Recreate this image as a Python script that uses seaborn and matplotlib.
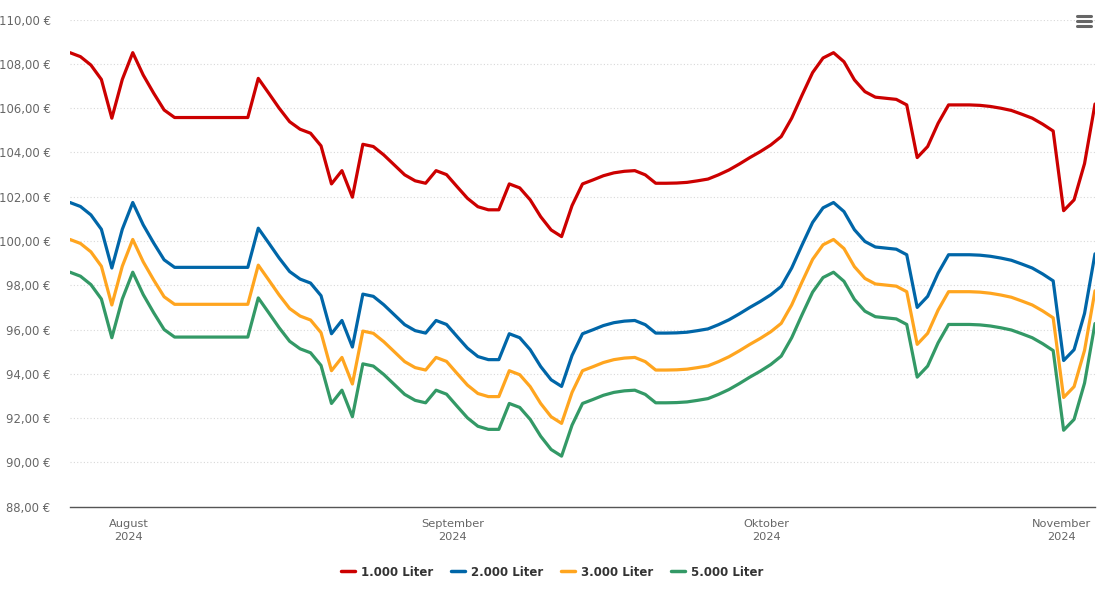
import pandas as pd
import matplotlib
matplotlib.use("Agg")
import matplotlib.pyplot as plt
from matplotlib.lines import Line2D
from matplotlib.ticker import FuncFormatter
import seaborn as sns

# daily price per 100 liter, 26.07.2024 - 01.11.2024
dates = pd.date_range("2024-07-26 10:00", "2024-11-01 10:00", freq="D")

liter_1000 = [
    108.51, 108.33, 107.95, 107.30, 105.55, 107.30, 108.51, 107.50, 106.68, 105.92,
    105.58, 105.58, 105.58, 105.58, 105.58, 105.58, 105.58, 105.58, 107.35, 106.68,
    106.00, 105.39, 105.05, 104.87, 104.30, 102.58, 103.18, 101.98, 104.37, 104.27,
    103.89, 103.44, 102.99, 102.72, 102.61, 103.18, 103.00, 102.46, 101.93, 101.55,
    101.41, 101.41, 102.58, 102.40, 101.86, 101.10, 100.50, 100.20, 101.60, 102.58,
    102.76, 102.95, 103.08, 103.15, 103.18, 102.99, 102.61, 102.61, 102.62, 102.65,
    102.72, 102.80, 102.99, 103.21, 103.48, 103.77, 104.04, 104.34, 104.72, 105.55,
    106.60, 107.61, 108.27, 108.51, 108.10, 107.28, 106.75, 106.50, 106.45, 106.40,
    106.15, 103.77, 104.27, 105.32, 106.15, 106.15, 106.15, 106.13, 106.08, 106.00,
    105.90, 105.73, 105.55, 105.28, 104.97, 101.37, 101.86, 103.50, 106.19,
]
liter_2000 = [
    101.74, 101.56, 101.18, 100.53, 98.78, 100.53, 101.74, 100.73, 99.91, 99.15,
    98.81, 98.81, 98.81, 98.81, 98.81, 98.81, 98.81, 98.81, 100.58, 99.91,
    99.23, 98.62, 98.28, 98.10, 97.53, 95.81, 96.41, 95.21, 97.60, 97.50,
    97.12, 96.67, 96.22, 95.95, 95.84, 96.41, 96.23, 95.69, 95.16, 94.78,
    94.64, 94.64, 95.81, 95.63, 95.09, 94.33, 93.73, 93.43, 94.83, 95.81,
    95.99, 96.18, 96.31, 96.38, 96.41, 96.22, 95.84, 95.84, 95.85, 95.88,
    95.95, 96.03, 96.22, 96.44, 96.71, 97.00, 97.27, 97.57, 97.95, 98.78,
    99.83, 100.84, 101.50, 101.74, 101.33, 100.51, 99.98, 99.73, 99.68, 99.63,
    99.38, 97.00, 97.50, 98.55, 99.38, 99.38, 99.38, 99.36, 99.31, 99.23,
    99.13, 98.96, 98.78, 98.51, 98.20, 94.60, 95.09, 96.73, 99.42,
]
liter_3000 = [
    100.07, 99.89, 99.51, 98.86, 97.11, 98.86, 100.07, 99.06, 98.24, 97.48,
    97.14, 97.14, 97.14, 97.14, 97.14, 97.14, 97.14, 97.14, 98.91, 98.24,
    97.56, 96.95, 96.61, 96.43, 95.86, 94.14, 94.74, 93.54, 95.93, 95.83,
    95.45, 95.00, 94.55, 94.28, 94.17, 94.74, 94.56, 94.02, 93.49, 93.11,
    92.97, 92.97, 94.14, 93.96, 93.42, 92.66, 92.06, 91.76, 93.16, 94.14,
    94.32, 94.51, 94.64, 94.71, 94.74, 94.55, 94.17, 94.17, 94.18, 94.21,
    94.28, 94.36, 94.55, 94.77, 95.04, 95.33, 95.60, 95.90, 96.28, 97.11,
    98.16, 99.17, 99.83, 100.07, 99.66, 98.84, 98.31, 98.06, 98.01, 97.96,
    97.71, 95.33, 95.83, 96.88, 97.71, 97.71, 97.71, 97.69, 97.64, 97.56,
    97.46, 97.29, 97.11, 96.84, 96.53, 92.93, 93.42, 95.06, 97.75,
]
liter_5000 = [
    98.59, 98.41, 98.03, 97.38, 95.63, 97.38, 98.59, 97.58, 96.76, 96.00,
    95.66, 95.66, 95.66, 95.66, 95.66, 95.66, 95.66, 95.66, 97.43, 96.76,
    96.08, 95.47, 95.13, 94.95, 94.38, 92.66, 93.26, 92.06, 94.45, 94.35,
    93.97, 93.52, 93.07, 92.80, 92.69, 93.26, 93.08, 92.54, 92.01, 91.63,
    91.49, 91.49, 92.66, 92.48, 91.94, 91.18, 90.58, 90.28, 91.68, 92.66,
    92.84, 93.03, 93.16, 93.23, 93.26, 93.07, 92.69, 92.69, 92.70, 92.73,
    92.80, 92.88, 93.07, 93.29, 93.56, 93.85, 94.12, 94.42, 94.80, 95.63,
    96.68, 97.69, 98.35, 98.59, 98.18, 97.36, 96.83, 96.58, 96.53, 96.48,
    96.23, 93.85, 94.35, 95.40, 96.23, 96.23, 96.23, 96.21, 96.16, 96.08,
    95.98, 95.81, 95.63, 95.36, 95.05, 91.45, 91.94, 93.58, 96.27,
]

series_names = ["1.000 Liter", "2.000 Liter", "3.000 Liter", "5.000 Liter"]
colors = ["#cc0000", "#0066a8", "#ffa51f", "#339966"]
month_labels = ["August\n2024", "September\n2024", "Oktober\n2024", "November\n2024"]
month_ticks = pd.to_datetime(["2024-08-01", "2024-09-01", "2024-10-01", "2024-11-01"])

frames = []
for name, vals in zip(series_names, [liter_1000, liter_2000, liter_3000, liter_5000]):
    frames.append(pd.DataFrame({"Datum": dates, "Preis": vals, "Menge": name}))
df = pd.concat(frames, ignore_index=True)

sns.set_style("white")
plt.rcParams["font.family"] = ["DejaVu Sans"]

fig = plt.figure(figsize=(11.05, 6.03), dpi=100)
ax = fig.add_axes([70 / 1105, 1 - 506.6 / 603, 1025 / 1105, (506.6 - 19.7) / 603])

sns.lineplot(data=df, x="Datum", y="Preis", hue="Menge", palette=colors,
             linewidth=2.3, ax=ax, legend=False)

ax.set_xlim(dates[0], dates[-1])
ax.set_ylim(88, 110)
ax.set_yticks(range(88, 111, 2))
ax.yaxis.set_major_formatter(FuncFormatter(lambda v, p: f"{v:.2f} €".replace(".", ",")))
ax.set_xticks(month_ticks)
ax.set_xticklabels(month_labels)
ax.set_xlabel("")
ax.set_ylabel("")

ax.grid(axis="y", color="#d8d8d8", linestyle=(0, (1, 2)), linewidth=0.8)
ax.grid(axis="x", visible=False)
for s in ["top", "right", "left"]:
    ax.spines[s].set_visible(False)
ax.spines["bottom"].set_color("#555555")
ax.spines["bottom"].set_linewidth(1)

ax.tick_params(axis="y", length=0, labelsize=8.4, labelcolor="#666666", pad=14)
ax.tick_params(axis="x", length=5, width=1, color="#555555", direction="out",
               labelsize=8.2, labelcolor="#666666", pad=4)
for lab in ax.get_xticklabels():
    lab.set_linespacing(1.35)
    lab.set_multialignment("center")
# last month label is pushed inside the plot like in the original
ax.get_xticklabels()[-1].set_horizontalalignment("right")

handles = [Line2D([0], [0], color=c, linewidth=2.5) for c in colors]
leg = fig.legend(handles, series_names, loc="center", bbox_to_anchor=(0.5, 1 - 572 / 603),
                 ncol=4, frameon=False, handlelength=1.2, handletextpad=0.5,
                 columnspacing=1.5, prop={"size": 8.5, "weight": "bold"})
for t in leg.get_texts():
    t.set_color("#333333")

# menu icon top right
for yy in [16, 21, 26]:
    fig.add_artist(Line2D([1077 / 1105, 1091 / 1105], [1 - yy / 603, 1 - yy / 603],
                          color="#666666", linewidth=2.2, solid_capstyle="round"))

fig.savefig("out.png", dpi=100)
